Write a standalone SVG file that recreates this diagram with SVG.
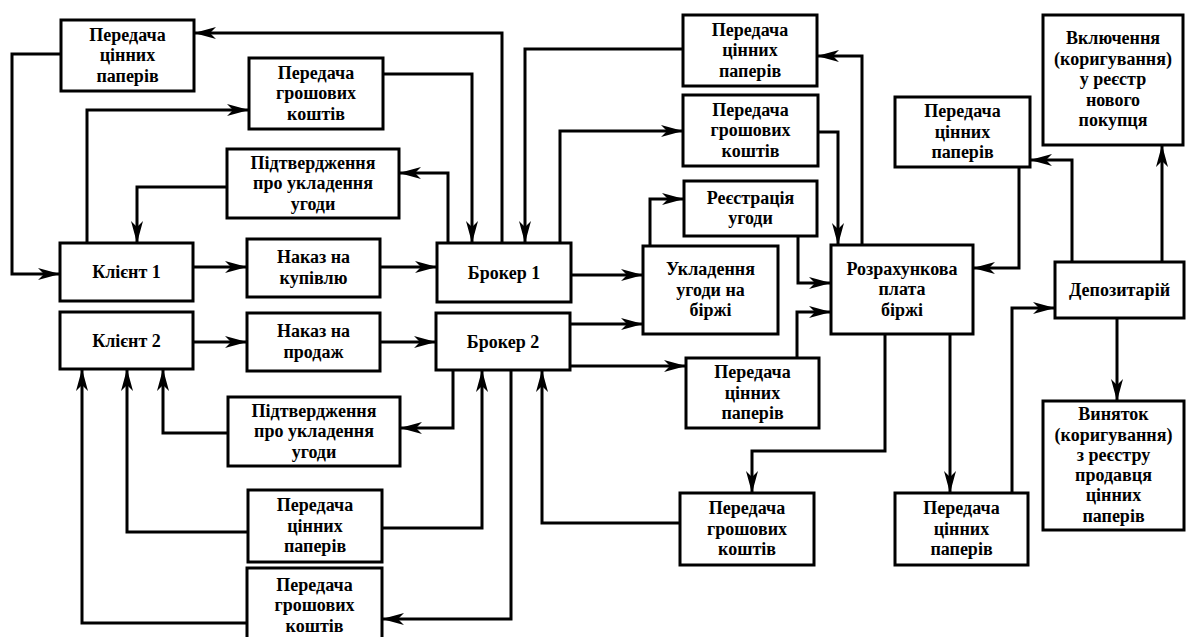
<svg xmlns="http://www.w3.org/2000/svg" width="1186" height="637" viewBox="0 0 1186 637">
<style>
.box{fill:#fff;stroke:#000;stroke-width:3}
.t{font-family:'Liberation Serif','Times New Roman',serif;font-size:18px;font-weight:bold;text-anchor:middle;fill:#000}
.c{fill:none;stroke:#000;stroke-width:3;marker-end:url(#ah)}
</style>
<defs>
<marker id="ah" markerUnits="userSpaceOnUse" markerWidth="23" markerHeight="12" refX="22" refY="6" orient="auto">
<path d="M0,0 L22,6 L0,12 L6,6 Z" fill="#000"/>
</marker>
</defs>
<rect width="1186" height="637" fill="#fff"/>
<g id="connectors">
<path class="c" d="M502,243 V33 H194"/>
<path class="c" d="M61,54 H12 V274 H60"/>
<path class="c" d="M87,243 V110 H249"/>
<path class="c" d="M383,74 H472 V243"/>
<path class="c" d="M448,243 V173 H399"/>
<path class="c" d="M227,187 H137 V243"/>
<path class="c" d="M193,267 H247"/>
<path class="c" d="M380,267 H437"/>
<path class="c" d="M193,342 H247"/>
<path class="c" d="M380,342 H436"/>
<path class="c" d="M560,243 V131 H683"/>
<path class="c" d="M818,132 H838 V245"/>
<path class="c" d="M862,245 V56 H817"/>
<path class="c" d="M683,49 H525 V243"/>
<path class="c" d="M571,275 H643"/>
<path class="c" d="M570,324 H643"/>
<path class="c" d="M650,246 V199 H684"/>
<path class="c" d="M798,236 V283 H831"/>
<path class="c" d="M570,366 H686"/>
<path class="c" d="M797,358 V312 H831"/>
<path class="c" d="M1019,167 V268 H973"/>
<path class="c" d="M1072,262 V160 H1030"/>
<path class="c" d="M1162,262 V145"/>
<path class="c" d="M1117,318 V401"/>
<path class="c" d="M1012,493 V308 H1055"/>
<path class="c" d="M950,334 V493"/>
<path class="c" d="M885,334 V451 H752 V493"/>
<path class="c" d="M680,523 H542 V370"/>
<path class="c" d="M453,370 V428 H400"/>
<path class="c" d="M228,433 H163 V369"/>
<path class="c" d="M383,528 H482 V370"/>
<path class="c" d="M248,532 H127 V369"/>
<path class="c" d="M511,370 V619 H382"/>
<path class="c" d="M247,623 H82 V369"/>
</g>
<g id="tl_pcp"><rect class="box" x="61" y="20" width="133" height="71"/>
<text class="t" x="127.5" y="40.5">Передача</text><text class="t" x="127.5" y="61">цінних</text><text class="t" x="127.5" y="81.5">паперів</text></g>
<g id="tl_pgk"><rect class="box" x="249" y="58" width="134" height="71"/>
<text class="t" x="316" y="78.5">Передача</text><text class="t" x="316" y="99">грошових</text><text class="t" x="316" y="119.5">коштів</text></g>
<g id="pid1"><rect class="box" x="227" y="149" width="172" height="69"/>
<text class="t" x="313" y="168.5">Підтвердження</text><text class="t" x="313" y="189">про укладення</text><text class="t" x="313" y="209.5">угоди</text></g>
<g id="client1"><rect class="box" x="60" y="243" width="133" height="58"/>
<text class="t" x="126.5" y="278">Клієнт 1</text></g>
<g id="client2"><rect class="box" x="60" y="312" width="133" height="57"/>
<text class="t" x="126.5" y="346.5">Клієнт 2</text></g>
<g id="nak_kup"><rect class="box" x="247" y="239" width="133" height="58"/>
<text class="t" x="313.5" y="263.25">Наказ на</text><text class="t" x="313.5" y="283.75">купівлю</text></g>
<g id="nak_prod"><rect class="box" x="247" y="313" width="133" height="58"/>
<text class="t" x="313.5" y="337.25">Наказ на</text><text class="t" x="313.5" y="357.75">продаж</text></g>
<g id="broker1"><rect class="box" x="437" y="243" width="134" height="59"/>
<text class="t" x="504" y="278.5">Брокер 1</text></g>
<g id="broker2"><rect class="box" x="436" y="313" width="134" height="57"/>
<text class="t" x="503" y="347.5">Брокер 2</text></g>
<g id="pid2"><rect class="box" x="228" y="397" width="172" height="69"/>
<text class="t" x="314" y="416.5">Підтвердження</text><text class="t" x="314" y="437">про укладення</text><text class="t" x="314" y="457.5">угоди</text></g>
<g id="bl_pcp"><rect class="box" x="248" y="490" width="134" height="72"/>
<text class="t" x="315" y="511">Передача</text><text class="t" x="315" y="531.5">цінних</text><text class="t" x="315" y="552">паперів</text></g>
<g id="bl_pgk"><rect class="box" x="247" y="568" width="135" height="74"/>
<text class="t" x="314.5" y="590.5">Передача</text><text class="t" x="314.5" y="611">грошових</text><text class="t" x="314.5" y="631.5">коштів</text></g>
<g id="tr_pcp"><rect class="box" x="683" y="15" width="134" height="71"/>
<text class="t" x="750" y="35.5">Передача</text><text class="t" x="750" y="56">цінних</text><text class="t" x="750" y="76.5">паперів</text></g>
<g id="tr_pgk"><rect class="box" x="683" y="95" width="135" height="71"/>
<text class="t" x="750.5" y="115.5">Передача</text><text class="t" x="750.5" y="136">грошових</text><text class="t" x="750.5" y="156.5">коштів</text></g>
<g id="reg"><rect class="box" x="684" y="181" width="133" height="55"/>
<text class="t" x="750.5" y="203.75">Реєстрація</text><text class="t" x="750.5" y="224.25">угоди</text></g>
<g id="ukl"><rect class="box" x="643" y="246" width="135" height="88"/>
<text class="t" x="710.5" y="275">Укладення</text><text class="t" x="710.5" y="295.5">угоди на</text><text class="t" x="710.5" y="316">біржі</text></g>
<g id="mid_pcp"><rect class="box" x="686" y="358" width="133" height="70"/>
<text class="t" x="752.5" y="378">Передача</text><text class="t" x="752.5" y="398.5">цінних</text><text class="t" x="752.5" y="419">паперів</text></g>
<g id="rozr"><rect class="box" x="831" y="245" width="142" height="89"/>
<text class="t" x="902" y="274.5">Розрахункова</text><text class="t" x="902" y="295">плата</text><text class="t" x="902" y="315.5">біржі</text></g>
<g id="bm_pgk"><rect class="box" x="680" y="493" width="134" height="72"/>
<text class="t" x="747" y="514">Передача</text><text class="t" x="747" y="534.5">грошових</text><text class="t" x="747" y="555">коштів</text></g>
<g id="r_pcp"><rect class="box" x="895" y="97" width="135" height="70"/>
<text class="t" x="962.5" y="117">Передача</text><text class="t" x="962.5" y="137.5">цінних</text><text class="t" x="962.5" y="158">паперів</text></g>
<g id="depo"><rect class="box" x="1055" y="262" width="129" height="56"/>
<text class="t" x="1119.5" y="296">Депозитарій</text></g>
<g id="vkl"><rect class="box" x="1043" y="15" width="140" height="130"/>
<text class="t" x="1113" y="44">Включення</text><text class="t" x="1113" y="64.5">(коригування)</text><text class="t" x="1113" y="85">у реєстр</text><text class="t" x="1113" y="105.5">нового</text><text class="t" x="1113" y="126">покупця</text></g>
<g id="vyn"><rect class="box" x="1043" y="401" width="141" height="129"/>
<text class="t" x="1113.5" y="420.25">Виняток</text><text class="t" x="1113.5" y="440.55">(коригування)</text><text class="t" x="1113.5" y="460.85">з реєстру</text><text class="t" x="1113.5" y="481.15">продавця</text><text class="t" x="1113.5" y="501.45">цінних</text><text class="t" x="1113.5" y="521.75">паперів</text></g>
<g id="br_pcp"><rect class="box" x="895" y="493" width="133" height="72"/>
<text class="t" x="961.5" y="514">Передача</text><text class="t" x="961.5" y="534.5">цінних</text><text class="t" x="961.5" y="555">паперів</text></g>
</svg>
